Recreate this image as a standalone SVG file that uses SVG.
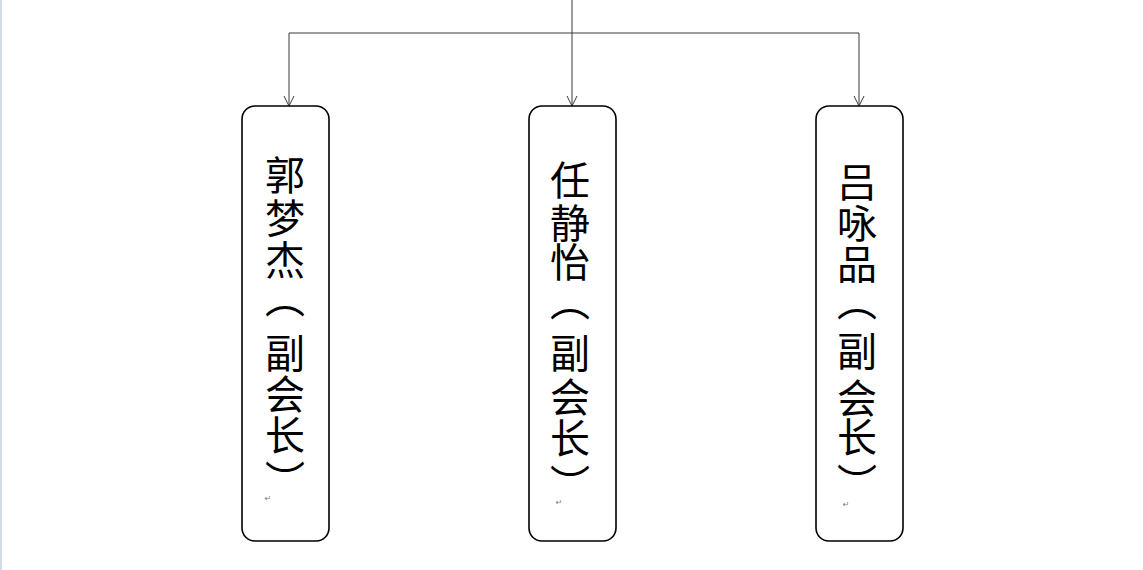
<svg xmlns="http://www.w3.org/2000/svg" width="1143" height="570" viewBox="0 0 1143 570">
<style>
.box{fill:#fff;stroke:#000;stroke-width:1.6}
.conn{fill:none;stroke:#3a3a3a;stroke-width:1}
.lbl{font-family:"Noto Sans CJK SC","Noto Sans CJK JP",sans-serif;font-size:40px;fill:#000;text-anchor:middle;dominant-baseline:central}
.mark{font-family:"DejaVu Sans",sans-serif;font-size:8px;fill:#777;text-anchor:middle}
</style>
<defs>
<marker id="arr" viewBox="0 0 12 12" refX="11" refY="6" markerWidth="12" markerHeight="12" markerUnits="userSpaceOnUse" orient="auto">
<path d="M1,1 L11,6 L1,11" fill="none" stroke="#3a3a3a" stroke-width="1"/>
</marker>
</defs>
<rect width="1143" height="570" fill="#fff"/>
<line x1="1" y1="0" x2="1" y2="570" stroke="#cfdde3" stroke-width="2"/>
<g id="connectors">
<path class="conn" d="M572,0 V106" marker-end="url(#arr)"/>
<path class="conn" d="M289,33 H859"/>
<path class="conn" d="M289,33 V106" marker-end="url(#arr)"/>
<path class="conn" d="M859,33 V106" marker-end="url(#arr)"/>
</g>
<g id="node1">
<rect class="box" x="242" y="106" width="87" height="435" rx="13"/>
<text class="lbl" x="285" y="173">郭</text>
<text class="lbl" x="285" y="216">梦</text>
<text class="lbl" x="285" y="258">杰</text>
<text class="lbl" x="285" y="296">︵</text>
<text class="lbl" x="285" y="351">副</text>
<text class="lbl" x="285" y="392">会</text>
<text class="lbl" x="285" y="433">长</text>
<text class="lbl" x="285" y="478">︶</text>
<text class="mark" x="268" y="501">↵</text>
</g>
<g id="node2">
<rect class="box" x="529" y="106" width="87" height="435" rx="13"/>
<text class="lbl" x="570" y="178">任</text>
<text class="lbl" x="570" y="221">静</text>
<text class="lbl" x="570" y="260">怡</text>
<text class="lbl" x="570" y="299">︵</text>
<text class="lbl" x="570" y="351">副</text>
<text class="lbl" x="570" y="395">会</text>
<text class="lbl" x="570" y="436">长</text>
<text class="lbl" x="570" y="482">︶</text>
<text class="mark" x="559" y="505">↵</text>
</g>
<g id="node3">
<rect class="box" x="816" y="106" width="87" height="435" rx="13"/>
<text class="lbl" x="857" y="180">吕</text>
<text class="lbl" x="857" y="221">咏</text>
<text class="lbl" x="857" y="262">品</text>
<text class="lbl" x="857" y="299">︵</text>
<text class="lbl" x="857" y="349">副</text>
<text class="lbl" x="857" y="396">会</text>
<text class="lbl" x="857" y="435">长</text>
<text class="lbl" x="857" y="481">︶</text>
<text class="mark" x="846" y="507">↵</text>
</g>
</svg>
